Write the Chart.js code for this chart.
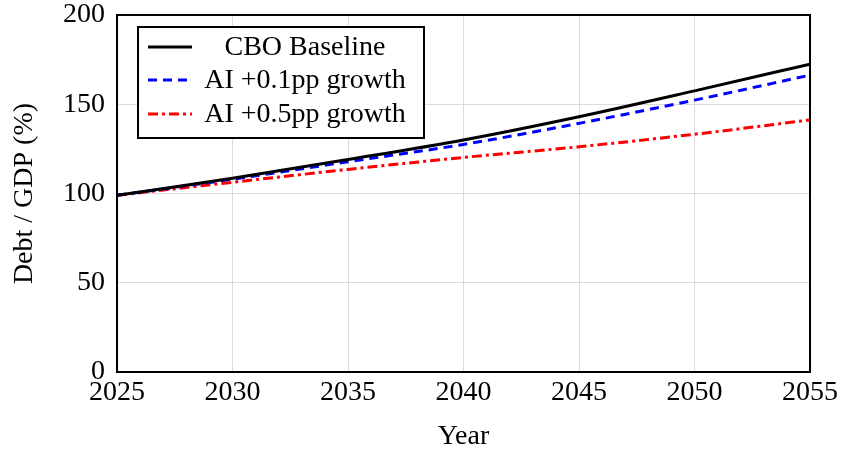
<!DOCTYPE html>
<html>
<head>
<meta charset="utf-8">
<script src="https://cdn.jsdelivr.net/npm/chart.js@4"></script>
<style>
  html, body { margin: 0; padding: 0; background: #fff; }
  #wrap { width: 842px; height: 453px; }
</style>
</head>
<body>
<div id="wrap"><canvas id="c" width="842" height="453"></canvas></div>
<script>
// Debt-to-GDP projections, percent of GDP
const years = [2025, 2030, 2035, 2040, 2045, 2050, 2055];
const cboBaseline = [99, 108.5, 119, 130, 143, 157.5, 172.5];
const aiLow = [99, 108, 117.8, 127.5, 139.3, 152.3, 166.3];
const aiHigh = [99, 106.3, 113.5, 120.2, 126.2, 133.2, 141.2];
const seriesLabels = ['CBO Baseline', 'AI +0.1pp growth', 'AI +0.5pp growth'];
const yTicks = [0, 50, 100, 150, 200];

const FONT = '"Liberation Serif", "DejaVu Serif", serif';

// Frame around the plot area
const frame = {
  id: 'frame',
  afterDatasetsDraw(chart) {
    const { ctx, chartArea: a } = chart;
    ctx.save();
    ctx.strokeStyle = '#000';
    ctx.lineWidth = 2;
    ctx.strokeRect(a.left, a.top, a.right - a.left, a.bottom - a.top);
    ctx.restore();
  }
};

// Boxed legend in the upper-left corner of the plot
const boxLegend = {
  id: 'boxLegend',
  afterDraw(chart) {
    const { ctx, chartArea: a } = chart;
    const x0 = a.left + 21, y0 = a.top + 12, w = 286, h = 111;
    ctx.save();
    ctx.fillStyle = '#fff';
    ctx.fillRect(x0, y0, w, h);
    ctx.strokeStyle = '#000';
    ctx.lineWidth = 2;
    ctx.strokeRect(x0, y0, w, h);
    ctx.font = '28px ' + FONT;
    ctx.textAlign = 'center';
    ctx.textBaseline = 'middle';
    const rowY = [y0 + 20, y0 + 53, y0 + 87];
    chart.data.datasets.forEach((ds, i) => {
      const y = rowY[i];
      ctx.strokeStyle = ds.borderColor;
      ctx.lineWidth = ds.borderWidth;
      ctx.setLineDash(ds.borderDash || []);
      ctx.beginPath();
      ctx.moveTo(x0 + 10, y);
      ctx.lineTo(x0 + 54, y);
      ctx.stroke();
      ctx.setLineDash([]);
      ctx.fillStyle = '#000';
      ctx.fillText(ds.label, x0 + 167, y + 1);
    });
    ctx.restore();
  }
};

new Chart(document.getElementById('c'), {
  type: 'line',
  data: {
    labels: years,
    datasets: [
      { label: seriesLabels[0], data: cboBaseline, borderColor: '#000', borderWidth: 3 },
      { label: seriesLabels[1], data: aiLow, borderColor: '#0000ff', borderWidth: 3, borderDash: [9, 6] },
      { label: seriesLabels[2], data: aiHigh, borderColor: '#ff0000', borderWidth: 3, borderDash: [10, 4, 3, 4] }
    ].map(d => Object.assign(d, { pointRadius: 0, fill: false, cubicInterpolationMode: 'monotone' }))
  },
  options: {
    responsive: false,
    animation: false,
    layout: { padding: { left: 0, top: 15, right: 32, bottom: 0 } },
    plugins: { legend: { display: false }, tooltip: { enabled: false } },
    scales: {
      x: {
        type: 'linear',
        min: 2025, max: 2055,
        afterBuildTicks(scale) { scale.ticks = years.map(v => ({ value: v })); },
        afterFit(scale) { scale.height = 81; scale.paddingLeft = 0; scale.paddingRight = 0; },
        grid: { color: '#dcdcdc', lineWidth: 1, drawTicks: false },
        border: { display: false },
        ticks: {
          color: '#000', padding: 6,
          font: { family: FONT, size: 28, lineHeight: 1.05 },
          callback: v => String(v),
          maxRotation: 0
        },
        title: { display: true, text: 'Year', color: '#000', font: { family: FONT, size: 28 }, padding: { top: 4, bottom: 0 } }
      },
      y: {
        min: 0, max: 200,
        afterBuildTicks(scale) { scale.ticks = yTicks.map(v => ({ value: v })); },
        afterFit(scale) { scale.width = 117; scale.paddingTop = 0; scale.paddingBottom = 0; },
        grid: { color: '#dcdcdc', lineWidth: 1, drawTicks: false },
        border: { display: false },
        ticks: {
          color: '#000', padding: 12,
          font: { family: FONT, size: 28, lineHeight: 1.05 }
        },
        title: { display: true, text: 'Debt / GDP (%)', color: '#000', font: { family: FONT, size: 28 }, padding: { top: 8, bottom: 4 } }
      }
    }
  },
  plugins: [frame, boxLegend]
});
</script>
</body>
</html>
